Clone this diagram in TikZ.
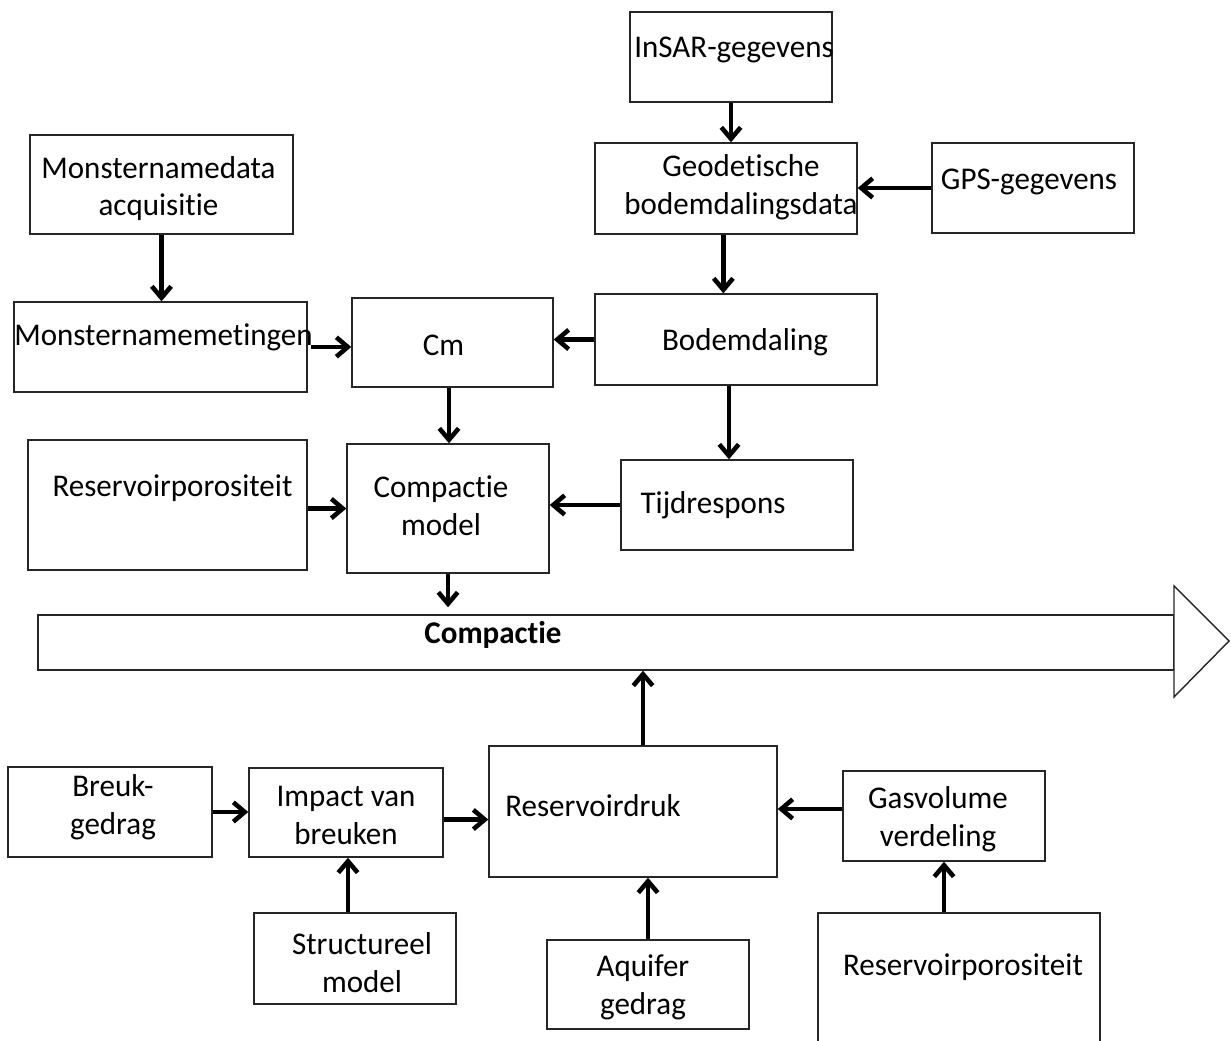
\documentclass[tikz,border=0pt]{standalone}
\usepackage{fontspec}
\setmainfont{Carlito}[Ligatures=NoCommon, FakeStretch=0.98]
\usetikzlibrary{arrows.meta}
\newcommand{\blok}[8]{%
  \node[blok, minimum width=#4*0.02cm, minimum height=#5*0.02cm] (#1) at (#2,#3) {};
  \node[lbl] (#1-t) at (#2+#6,#3+#7) {#8};}
\begin{document}
\begin{tikzpicture}[x=0.02cm, y=-0.02cm,
  blok/.style={draw=black!85, line width=0.8pt, rectangle, inner sep=0pt},
  lbl/.style={align=center, inner sep=0pt, font=\fontsize{18}{21.5}\selectfont},
  pijl/.style={line width=2.6pt, -{Straight Barb[length=6.5pt,width=11pt]}}]
\useasboundingbox (0,0) rectangle (1231,1041);
\clip (0,0) rectangle (1231,1041);

% ---- top: geodetic data ----
\blok{insar}{731}{57}{202}{90}{3}{-7}{InSAR-gegevens}
\blok{geo}{726}{188.5}{262}{91}{15}{-1}{Geodetische\\bodemdalingsdata}
\blok{gps}{1033}{188}{202}{90}{-4}{-6}{GPS-gegevens}
\blok{daling}{736}{339.5}{282}{91}{9}{3}{Bodemdaling}
\blok{tijd}{737}{505}{232}{90}{-24}{0}{Tijdrespons}

% ---- left: sample data ----
\blok{acq}{161.5}{184.5}{263}{99}{-3}{4}{Monsternamedata\\acquisitie}
\blok{meting}{160.5}{347}{293}{90}{3}{-10}{Monsternamemetingen}
\blok{cm}{452.5}{342.5}{201}{89}{-9}{3}{Cm}
\blok{poro}{167.5}{505}{279}{130}{5}{-17}{Reservoirporositeit}
\blok{model}{448}{508.5}{202}{129}{-7}{-3}{Compactie\\model}

% ---- the big arrow ----
\node[blok, minimum width=1136*0.02cm, minimum height=55*0.02cm] (band) at (606,642.5) {};
\draw[draw=black!85, line width=0.8pt, fill=white] (1174,586) -- (1229,641) -- (1174,697) -- cycle;
\node[lbl, font=\fontsize{18}{21.5}\selectfont\bfseries] (band-t) at (493,635) {Compactie};

% ---- bottom: reservoir pressure ----
\blok{breuk}{110}{812}{204}{90}{3}{-5}{Breuk-\\gedrag}
\blok{impact}{346}{812.5}{194}{89}{0}{3}{Impact van\\breuken}
\blok{druk}{633}{811.5}{288}{131}{-40}{-6}{Reservoirdruk}
\blok{gas}{944}{816}{202}{90}{-6}{3}{Gasvolume\\verdeling}
\blok{struct}{355}{958.5}{202}{91}{7}{4}{Structureel\\model}
\blok{aqui}{648}{984.5}{202}{89}{-5}{3}{Aquifer\\gedrag}
\blok{poro2}{959}{993}{282}{160}{4}{-26}{Reservoirporositeit}

% ---- connectors ----
\draw[pijl] (insar.south) -- (insar.south |- geo.north);
\draw[pijl] (gps.west) -- (gps.west -| geo.east);
\draw[pijl] ([xshift=-1.5pt]geo.south) -- ([xshift=-1.5pt]geo.south |- daling.north);
\draw[pijl] (daling.west) -- (daling.west -| cm.east);
\draw[pijl] ([xshift=-4pt]daling.south) -- ([xshift=-4pt]daling.south |- tijd.north);
\draw[pijl] (acq.south) -- (acq.south |- meting.north);
\draw[pijl] ([xshift=2pt]meting.east) -- (meting.east -| cm.west);
\draw[pijl] ([xshift=-2pt]cm.south) -- ([xshift=-2pt]cm.south |- model.north);
\draw[pijl] ([yshift=-2pt]poro.east) -- ([yshift=-2pt]poro.east -| model.west);
\draw[pijl] (tijd.west) -- (tijd.west -| model.east);
\draw[pijl] (model.south) -- ([yshift=4pt]model.south |- band.north);
\draw[pijl] ([xshift=5.7pt]druk.north) -- ([xshift=5.7pt]druk.north |- band.south);
\draw[pijl] (breuk.east) -- (breuk.east -| impact.west);
\draw[pijl] ([yshift=-4pt]impact.east) -- ([yshift=-4pt]impact.east -| druk.west);
\draw[pijl] ([xshift=-4pt]struct.north) -- ([xshift=-4pt]struct.north |- impact.south);
\draw[pijl] (aqui.north) -- (aqui.north |- druk.south);
\draw[pijl] ([yshift=4pt]gas.west) -- ([yshift=4pt]gas.west -| druk.east);
\draw[pijl] (gas.south |- poro2.north) -- (gas.south);
\end{tikzpicture}
\end{document}
